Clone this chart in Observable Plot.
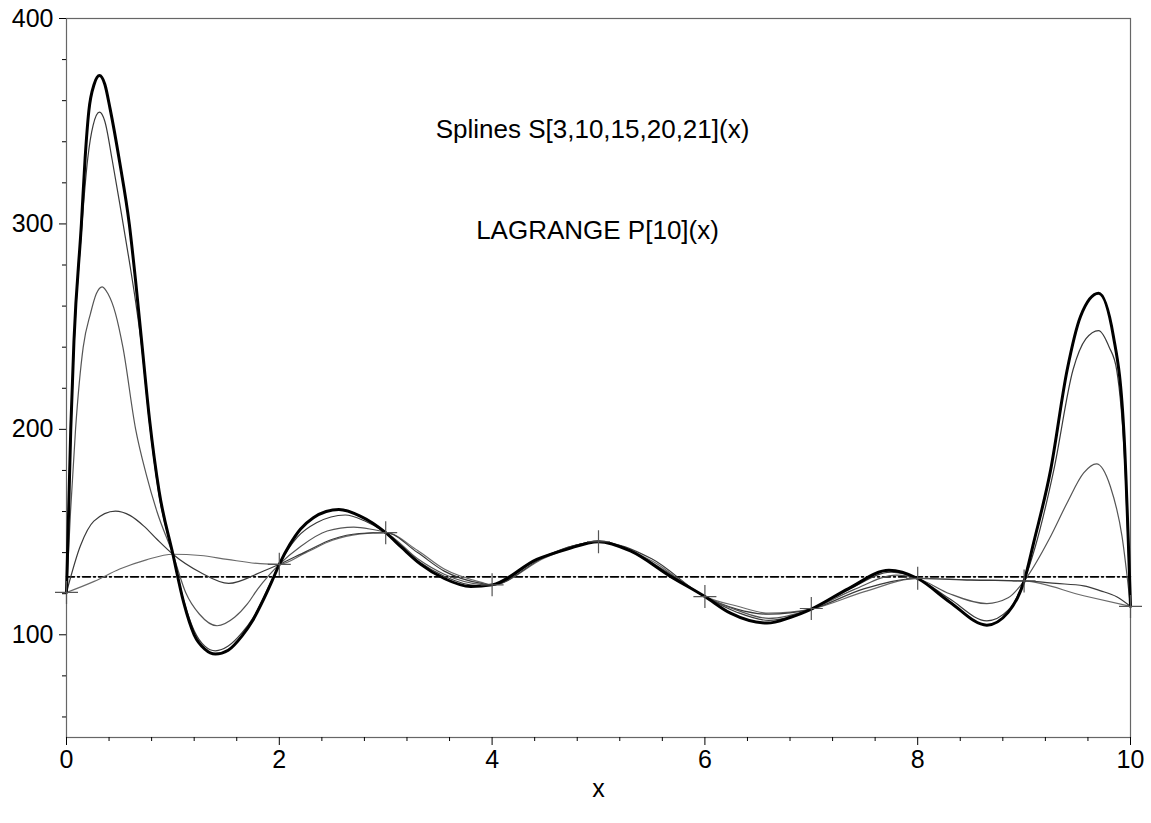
<!DOCTYPE html>
<html><head><meta charset="utf-8">
<script src="https://cdn.jsdelivr.net/npm/d3@7"></script>
<script src="https://cdn.jsdelivr.net/npm/@observablehq/plot@0.6"></script>
<style>body{margin:0;background:#fff} #chart svg{display:block}</style>
</head><body><div id="chart"></div>
<script>
// Knots (data points)
const knotX = [0, 1, 2, 3, 4, 5, 6, 7, 8, 9, 10];
const knotY = [120.6, 139.2, 134.3, 149.7, 124.3, 145.3, 118.6, 112.8, 127.5, 126.2, 113.8];
const markedKnotX = [0, 2, 3, 4, 5, 6, 7, 8, 9, 10];
const markedKnotY = [120.6, 134.3, 149.7, 124.3, 145.3, 118.6, 112.8, 127.5, 126.2, 113.8];

// Lagrange P[10](x) (thick)
const lagX = [0, 0.02, 0.04, 0.07, 0.14, 0.175, 0.21, 0.26, 0.31, 0.36, 0.41, 0.5, 0.59, 0.65, 0.705, 0.78, 0.87, 1.0, 1.1, 1.2, 1.3, 1.4, 1.52, 1.65, 1.75, 1.85, 1.93, 2.0, 2.1, 2.2, 2.32, 2.44, 2.56, 2.76, 3.0, 3.15, 3.33, 3.55, 3.8, 4.0, 4.42, 4.7, 5.0, 5.3, 5.68, 6.0, 6.24, 6.585, 6.8, 7.0, 7.35, 7.73, 8.0, 8.3, 8.65, 8.85, 9.0, 9.09, 9.25, 9.405, 9.53, 9.7, 9.84, 9.94, 10];
const lagY = [120.6, 160, 200, 243, 300, 332, 355, 368, 372.2, 368, 356, 330, 300, 272, 243.5, 205, 170, 139.2, 116, 100, 93, 90.6, 92.5, 99.5, 107, 117, 126, 134.3, 144, 151.5, 157, 160, 161, 157.8, 149.7, 142.5, 134.3, 127.4, 123.5, 124.3, 136.7, 141.6, 145.3, 140.8, 128.3, 118.6, 110.5, 105.7, 108.4, 112.5, 122.5, 131.4, 127.4, 116, 104.7, 110.9, 126.2, 144.9, 180.4, 229, 254.9, 266.2, 245.1, 196.6, 113.8];

// Spline curves (thin)
const splineAX = [0, 0.04, 0.07, 0.14, 0.2, 0.25, 0.31, 0.36, 0.43, 0.5, 0.59, 0.65, 0.705, 0.78, 0.87, 1.0, 1.1, 1.2, 1.3, 1.4, 1.52, 1.65, 1.75, 1.85, 1.93, 2.0, 2.17, 2.35, 2.62, 2.8, 3.0, 3.3, 3.55, 3.85, 4.0, 4.42, 5.0, 5.68, 6.0, 6.3, 6.6, 7.0, 7.35, 7.75, 8.0, 8.3, 8.65, 8.85, 9.0, 9.1, 9.28, 9.46, 9.58, 9.7, 9.8, 9.87, 9.95, 10];
const splineAY = [120.6, 197, 240, 296, 332, 348, 354.4, 350, 331, 310, 282, 262, 241, 203, 168, 139.2, 117, 102, 94.5, 92.2, 94.5, 101, 108, 118, 126.5, 134.3, 147.5, 154.5, 158.3, 155.5, 149.7, 136, 128.5, 124, 124.3, 136.5, 145.3, 129, 118.6, 111, 107, 112.5, 122, 130.5, 127.4, 117.5, 106.8, 112, 126.2, 142, 180.4, 229, 244, 248.1, 240, 229, 180, 113.8];

const splineBX = [0, 0.038, 0.085, 0.157, 0.226, 0.28, 0.335, 0.39, 0.46, 0.53, 0.65, 0.75, 0.85, 1.0, 1.12, 1.25, 1.415, 1.58, 1.7, 1.8, 1.9, 2.0, 2.2, 2.45, 2.7, 2.85, 3.0, 3.3, 3.55, 3.9, 4.0, 4.42, 5.0, 5.68, 6.0, 6.3, 6.6, 7.0, 7.4, 7.8, 8.0, 8.3, 8.65, 8.85, 9.0, 9.25, 9.405, 9.56, 9.68, 9.81, 9.92, 10];
const splineBY = [120.6, 160, 200, 240, 256.5, 266, 269.4, 266, 256.5, 240, 200, 178, 160, 139.2, 120.6, 110, 104.4, 108.5, 115, 122.5, 128.8, 134.3, 143, 150.5, 152.4, 151.5, 149.7, 137, 129.5, 124.5, 124.3, 136.3, 145.3, 129.5, 118.6, 112, 108, 112.5, 122, 129, 127.4, 120, 115.2, 118, 126.2, 148, 164.3, 178.8, 183.2, 172.3, 148, 113.8];

const splineCX = [0, 0.13, 0.257, 0.46, 0.6, 0.727, 0.85, 1.0, 1.26, 1.525, 1.82, 2.0, 2.25, 2.5, 2.75, 3.0, 3.3, 3.55, 3.9, 4.0, 4.5, 5.0, 5.5, 6.0, 6.3, 6.6, 7.0, 7.5, 8.0, 8.5, 9.0, 9.3, 9.56, 9.72, 9.87, 10];
const splineCY = [120.6, 143.2, 155.3, 160.2, 158, 152.9, 146.5, 139.2, 130.3, 125, 130.3, 134.3, 140.5, 146.5, 149.3, 149.7, 140, 131, 125, 124.3, 138, 145.3, 137, 118.6, 112.5, 110, 112.5, 122.5, 127.4, 126.6, 126.2, 125, 123.8, 121.4, 118.5, 113.8];

const splineDX = [0, 0.26, 0.5, 0.75, 1.0, 1.26, 1.51, 1.82, 2.0, 2.25, 2.5, 2.75, 3.0, 3.3, 3.55, 3.9, 4.0, 4.5, 5.0, 5.5, 6.0, 6.3, 6.6, 7.0, 7.5, 8.0, 8.5, 9.0, 9.56, 10];
const splineDY = [120.6, 126, 132, 136.5, 139.2, 138.6, 136.7, 134.6, 134.3, 140, 146, 149, 149.7, 141, 132, 125.5, 124.3, 137.5, 145.3, 136, 118.6, 114, 110.5, 112.5, 121, 127.4, 126.8, 126.2, 119, 113.8];

// Horizontal dash-dot level
const levelX = [0, 10];
const levelY = [128.2, 128.2];

// Ticks
const xMajorTicks = [0, 2, 4, 6, 8, 10];
const xMinorTicks = [0.4, 0.8, 1.2, 1.6, 2.4, 2.8, 3.2, 3.6, 4.4, 4.8, 5.2, 5.6, 6.4, 6.8, 7.2, 7.6, 8.4, 8.8, 9.2, 9.6];
const yMajorTicks = [100, 200, 300, 400];
const yMinorTicks = [60, 80, 120, 140, 160, 180, 220, 240, 260, 280, 320, 340, 360, 380];

const titleLines = ["Splines S[3,10,15,20,21](x)", "LAGRANGE P[10](x)"];
const xLabel = "x";

const pts = (xs, ys) => xs.map((x, i) => ({x, y: ys[i]}));

const crossSymbol = {
  draw(context, size) {
    const r = Math.sqrt(size / Math.PI);
    context.moveTo(-r, 0); context.lineTo(r, 0);
    context.moveTo(0, -r); context.lineTo(0, r);
  }
};

const thin = {x: "x", y: "y", stroke: "#3a3a3a", strokeWidth: 1.2, curve: "monotone-x"};

const chart = Plot.plot({
  width: 1151, height: 823,
  marginLeft: 66, marginRight: 21, marginTop: 18, marginBottom: 86,
  style: {fontFamily: "'Liberation Sans', Arial, Helvetica, sans-serif", background: "#fff", color: "#000"},
  x: {domain: [0, 10], axis: null},
  y: {domain: [50, 400], axis: null},
  marks: [
    Plot.frame({stroke: "#666", strokeWidth: 1.2}),
    Plot.axisX(xMajorTicks, {tickSize: 8, tickPadding: 5, fontSize: 25, label: null, stroke: "#000"}),
    Plot.axisX(xMinorTicks, {tickSize: 4, tickFormat: () => "", label: null, stroke: "#000"}),
    Plot.axisY(yMajorTicks, {tickSize: 7, tickPadding: 6, fontSize: 25, label: null, stroke: "#000"}),
    Plot.axisY(yMinorTicks, {tickSize: 4, tickFormat: () => "", label: null, stroke: "#000"}),
    Plot.line(pts(levelX, levelY), {x: "x", y: "y", stroke: "#000", strokeWidth: 1.6, strokeDasharray: "8,3,2,3"}),
    Plot.line(pts(splineDX, splineDY), {...thin, stroke: "#6a6a6a"}),
    Plot.line(pts(splineCX, splineCY), thin),
    Plot.line(pts(splineBX, splineBY), {...thin, stroke: "#555"}),
    Plot.line(pts(splineAX, splineAY), thin),
    Plot.line(pts(lagX, lagY), {x: "x", y: "y", stroke: "#000", strokeWidth: 3, curve: "monotone-x"}),
    Plot.dot(pts(markedKnotX, markedKnotY), {x: "x", y: "y", symbol: crossSymbol, r: 11.5, stroke: "#555", strokeWidth: 1.2, fill: "none"}),
    Plot.text([titleLines[0]], {frameAnchor: "top", dx: -6, dy: 100.7, fontSize: 26, fill: "#000"}),
    Plot.text([titleLines[1]], {frameAnchor: "top", dx: -1, dy: 202, fontSize: 26, fill: "#000"}),
    Plot.text([xLabel], {frameAnchor: "bottom", dy: 59, fontSize: 25, fill: "#000"})
  ]
});
document.getElementById("chart").appendChild(chart);
</script>
</body></html>
